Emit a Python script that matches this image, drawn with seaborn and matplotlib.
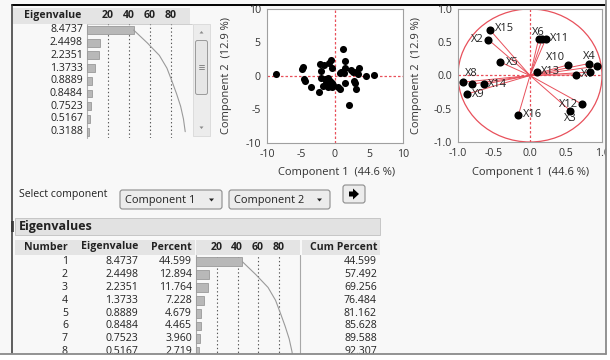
import numpy as np
import pandas as pd
import matplotlib
matplotlib.use("Agg")
import matplotlib.pyplot as plt
import seaborn as sns
from matplotlib.patches import Rectangle, FancyBboxPatch, Circle, Polygon

# ---- eigenvalue summary ----
eigenvalues = [8.4737, 2.4498, 2.2351, 1.3733, 0.8889, 0.8484, 0.7523, 0.5167, 0.3188]
percents = [44.599, 12.894, 11.764, 7.228, 4.679, 4.465, 3.960, 2.719, 1.678]
cum_percents = [44.599, 57.492, 69.256, 76.484, 81.162, 85.628, 89.588, 92.307, 93.985]
pct_ticks = [20, 40, 60, 80]

# ---- score plot (component 1 vs component 2) ----
score_c1 = [-8.7, -4.9, -4.7, -4.6, -4.4, -3.6, -2.4, -2.2, -1.6, -2.1,
            -0.9, -0.6, -0.4, -2.1, -1.5, -1.0, -0.8, -0.5, -1.1, -0.5,
            -1.8, -1.3, -0.3, 0.5, 0.8, 1.2, 1.4, 1.4, 0.9, 1.3,
            0.7, 1.5, 2.1, 2.4, 2.7, 2.8, 2.9, 3.1, 3.1, 3.4,
            3.6, 4.5, 5.8]
score_c2 = [0.3, 1.0, 1.3, -0.5, -0.7, -1.6, -2.4, 1.8, 1.6, 0.7,
            2.0, 2.4, 1.2, -0.3, -0.4, -0.3, -0.8, -1.0, -1.6, -1.6,
            -1.5, -1.1, -1.3, -1.7, -1.9, 4.0, 2.2, 1.2, 0.6, 0.5,
            0.5, -1.1, -4.3, 0.9, 0.6, -0.8, -1.1, -1.9, 0.6, 0.3,
            1.2, 0.0, 0.1]
score_ticks = [-10, -5, 0, 5, 10]

# ---- loading plot ----
variables = ["X1", "X2", "X3", "X4", "X5", "X6", "X7", "X8", "X9", "X10",
             "X11", "X12", "X13", "X14", "X15", "X16", "X17", "X18", "X19"]
load_c1 = [0.64, -0.58, 0.56, 0.82, -0.41, 0.12, 0.17, -0.93, -0.88, 0.53,
           0.22, 0.72, 0.10, -0.64, -0.56, -0.16, 0.93, 0.83, -0.81]
load_c2 = [0.01, 0.54, -0.53, 0.18, 0.20, 0.55, 0.55, -0.10, -0.28, 0.16,
           0.55, -0.43, 0.06, -0.13, 0.69, -0.59, 0.14, 0.05, -0.13]
load_ticks = [-1.0, -0.5, 0.0, 0.5, 1.0]

# label placement (pixel offsets, alignment); variables not listed stay unlabeled
label_place = {
    "X1": (5, 0, "left"), "X2": (-5, 0, "right"), "X3": (0, 8, "center"),
    "X4": (0, -7, "center"), "X5": (5, 0, "left"), "X6": (0, -6, "center"),
    "X8": (2, -9, "left"), "X9": (5, 0, "left"), "X10": (-3, -7, "right"),
    "X11": (4, 0, "left"), "X12": (-4, 0, "right"), "X13": (4, 0, "left"),
    "X14": (4, 0, "left"), "X15": (5, -1, "left"), "X16": (4, 0, "left"),
}

sns.set_style("white")
plt.rcParams["font.family"] = ["Open Sans", "DejaVu Sans"]
plt.rcParams["axes.unicode_minus"] = False

W, H = 610, 360
TXT = "#222222"
RED = "#e8505b"
FS = 7.6


def box(x0, y0, x1, y1):
    return [x0 / W, 1 - y1 / H, (x1 - x0) / W, (y1 - y0) / H]


fig = plt.figure(figsize=(W / 100, H / 100), dpi=100)
fig.patch.set_facecolor("#f8f8f8")

bg = fig.add_axes([0, 0, 1, 1], zorder=0)
bg.set_xlim(0, W)
bg.set_ylim(H, 0)
bg.axis("off")

# window frame lines
bg.plot([12, W], [5, 5], color="black", lw=1.4)
bg.plot([12, 12], [5, 353], color="#333333", lw=1.1)

# ---------------- top eigenvalue list ----------------
bg.add_patch(Rectangle((13, 8), 177, 15.5, fc="#e4e4e4", ec="none"))
bg.text(53, 15.8, "Eigenvalue", ha="center", va="center", fontsize=FS,
        fontweight="bold", color=TXT)
for t in pct_ticks:
    bg.text(87 + t * 1.045, 15.8, str(t), ha="center", va="center",
            fontsize=FS, fontweight="bold", color=TXT)
bg.plot([87, 87], [23.6, 138], color="#b0b0b0", lw=0.8)
bg.plot([87, 191.5], [23.6, 23.6], color="#c8c8c8", lw=0.6)

row_h_top = 12.71
for i, ev in enumerate(eigenvalues):
    bg.text(83, 30 + i * row_h_top, f"{ev:.4f}", ha="right", va="center",
            fontsize=FS, color=TXT)

ax_top = fig.add_axes(box(87, 30 - row_h_top / 2, 191.5,
                          30 + 8 * row_h_top + row_h_top / 2))
rows_top = [str(i + 1) for i in range(len(percents))]
sns.barplot(x=percents, y=rows_top, order=rows_top, orient="h",
            color="#b8b8b8", edgecolor="#9a9a9a", linewidth=0.6,
            width=0.62, saturation=1, ax=ax_top)
for t in pct_ticks:
    ax_top.axvline(t, color="#555555", lw=0.8, ls=(0, (1.2, 2.2)), zorder=0)
ax_top.plot(cum_percents, np.arange(len(cum_percents)), color="#9a9a9a", lw=0.8)
ax_top.set_xlim(0, 100)
ax_top.set_ylim(len(percents) - 0.5, -0.5)
ax_top.axis("off")

# scrollbar
bg.add_patch(Rectangle((193, 24), 17, 112, fc="#ececec", ec="#d8d8d8", lw=0.6))
bg.add_patch(FancyBboxPatch((195.5, 40.5), 12, 54, boxstyle="round,pad=0,rounding_size=2",
                            fc="#e6e6e6", ec="#9a9a9a", lw=0.7))
for dy in (-2, 0, 2):
    bg.plot([199, 204], [67 + dy, 67 + dy], color="#777777", lw=0.6)
bg.add_patch(Polygon([[199.5, 33.5], [203.5, 33.5], [201.5, 31.0]], fc="#8a8a8a", ec="none"))
bg.add_patch(Polygon([[199.5, 126.5], [203.5, 126.5], [201.5, 129.0]], fc="#8a8a8a", ec="none"))

# ---------------- score plot ----------------
def style_axes(ax):
    ax.set_facecolor("white")
    for s in ax.spines.values():
        s.set_color("#a0a0a0")
        s.set_linewidth(0.8)
    ax.tick_params(axis="both", direction="out", length=3, width=0.7,
                   color="#a0a0a0", labelsize=FS, labelcolor="#333333", pad=1.5)
    ax.set_xlabel("")
    ax.set_ylabel("")


ax_s = fig.add_axes(box(267, 9, 403, 143))
sns.scatterplot(x=score_c1, y=score_c2, color="black", s=26, linewidth=0,
                ax=ax_s, zorder=3)
ax_s.axvline(0, color=RED, lw=0.9, ls=(0, (2, 1.6)), zorder=1)
ax_s.axhline(0, color=RED, lw=0.9, ls=(0, (2, 1.6)), zorder=1)
ax_s.set_xlim(-10, 10)
ax_s.set_ylim(-10, 10)
ax_s.set_xticks(score_ticks)
ax_s.set_yticks(score_ticks)
style_axes(ax_s)
bg.text(337, 172, "Component 1  (44.6 %)", ha="center", va="center",
        fontsize=8, color="#333333")
bg.text(227, 76, "Component 2  (12.9 %)", ha="center", va="center",
        rotation=90, fontsize=8, color="#333333")

# ---------------- loading plot ----------------
ax_l = fig.add_axes(box(458, 9, 602, 142))
ax_l.add_patch(Circle((0, 0), 1.0, fill=False, ec=RED, lw=0.9, zorder=1))
ax_l.axvline(0, color=RED, lw=0.9, ls=(0, (2, 1.6)), zorder=1)
ax_l.axhline(0, color=RED, lw=0.9, ls=(0, (2, 1.6)), zorder=1)
for x, y in zip(load_c1, load_c2):
    ax_l.plot([0, x], [0, y], color=RED, lw=0.7, zorder=1)
for name, x, y in zip(variables, load_c1, load_c2):
    if name in label_place:
        dx, dy, ha = label_place[name]
        ax_l.annotate(name, (x, y), xytext=(dx, -dy), textcoords="offset pixels",
                      ha=ha, va="center", fontsize=8, color=TXT, zorder=2)
sns.scatterplot(x=load_c1, y=load_c2, color="black", s=34, linewidth=0,
                ax=ax_l, zorder=3)
ax_l.set_xlim(-1, 1)
ax_l.set_ylim(-1, 1)
ax_l.set_xticks(load_ticks)
ax_l.set_yticks(load_ticks)
ax_l.set_xticklabels([f"{v:.1f}" for v in load_ticks])
ax_l.set_yticklabels([f"{v:.1f}" for v in load_ticks])
style_axes(ax_l)
bg.text(531, 172, "Component 1  (44.6 %)", ha="center", va="center",
        fontsize=8, color="#333333")
bg.text(416, 76, "Component 2  (12.9 %)", ha="center", va="center",
        rotation=90, fontsize=8, color="#333333")

# ---------------- component selector ----------------
bg.text(19, 194.5, "Select component", ha="left", va="center", fontsize=FS, color=TXT)
for x0, x1, label in [(120, 222, "Component 1"), (229, 330, "Component 2")]:
    bg.add_patch(FancyBboxPatch((x0, 190), x1 - x0, 19,
                                boxstyle="round,pad=0,rounding_size=2.5",
                                fc="#ececec", ec="#8c8c8c", lw=0.8))
    bg.text(x0 + 5, 200, label, ha="left", va="center", fontsize=FS + 0.3, color=TXT)
    bg.add_patch(Polygon([[x1 - 13, 198.5], [x1 - 8, 198.5], [x1 - 10.5, 201.5]],
                         fc="#222222", ec="none"))
bg.add_patch(FancyBboxPatch((343, 185), 22, 18, boxstyle="round,pad=0,rounding_size=2.5",
                            fc="#ececec", ec="#8c8c8c", lw=0.8))
bg.add_patch(Polygon([[349, 191.5], [353, 191.5], [353, 188.5], [359, 194],
                      [353, 199.5], [353, 196.5], [349, 196.5]], fc="black", ec="none"))

# ---------------- eigenvalue table ----------------
bg.add_patch(Rectangle((10.5, 221), 3, 11, fc="#555555", ec="none"))
bg.add_patch(Rectangle((15, 218), 365, 17, fc="#e2e2e2", ec="#c0c0c0", lw=0.6))
bg.text(19, 226.5, "Eigenvalues", ha="left", va="center", fontsize=9,
        fontweight="bold", color=TXT)

for x0, x1 in [(15, 195), (196, 300), (302, 380)]:
    bg.add_patch(Rectangle((x0, 239.5), x1 - x0, 15, fc="#e4e4e4", ec="none"))
hdr_y = 247
bg.text(68, hdr_y, "Number", ha="right", va="center", fontsize=FS, fontweight="bold", color=TXT)
bg.text(138, hdr_y, "Eigenvalue", ha="right", va="center", fontsize=FS, fontweight="bold", color=TXT)
bg.text(192, hdr_y, "Percent", ha="right", va="center", fontsize=FS, fontweight="bold", color=TXT)
for t in pct_ticks:
    bg.text(196 + t * 1.03, hdr_y, str(t), ha="center", va="center",
            fontsize=FS, fontweight="bold", color=TXT)
bg.text(377, hdr_y, "Cum Percent", ha="right", va="center", fontsize=FS, fontweight="bold", color=TXT)

row_h = 12.86
row0 = 261.7
for i in range(8):
    y = row0 + i * row_h
    bg.text(68, y, str(i + 1), ha="right", va="center", fontsize=FS, color=TXT)
    bg.text(138, y, f"{eigenvalues[i]:.4f}", ha="right", va="center", fontsize=FS, color=TXT)
    bg.text(192, y, f"{percents[i]:.3f}", ha="right", va="center", fontsize=FS, color=TXT)
    bg.text(377, y, f"{cum_percents[i]:.3f}", ha="right", va="center", fontsize=FS, color=TXT)
bg.plot([196, 196], [255, 360], color="#a8a8a8", lw=0.8)
bg.plot([300, 300], [255, 360], color="#a8a8a8", lw=0.8)

ax_tab = fig.add_axes(box(196, row0 - row_h / 2, 300, 360))
sns.barplot(x=percents, y=rows_top, order=rows_top, orient="h",
            color="#b8b8b8", edgecolor="#9a9a9a", linewidth=0.6,
            width=0.68, saturation=1, ax=ax_tab)
for t in pct_ticks:
    ax_tab.axvline(t, color="#555555", lw=0.8, ls=(0, (1.2, 2.2)), zorder=0)
ax_tab.plot(cum_percents, np.arange(len(cum_percents)), color="#9a9a9a", lw=0.8)
ax_tab.set_xlim(0, 100)
ax_tab.set_ylim((360 - row0) / row_h, -0.5)
ax_tab.axis("off")

# ---------------- page edges ----------------
top = fig.add_axes([0, 0, 1, 1], zorder=10)
top.set_xlim(0, W)
top.set_ylim(H, 0)
top.axis("off")
top.add_patch(Rectangle((605.5, 0), 5, H, fc="white", ec="none"))
top.add_patch(Rectangle((0, 354), W, 6, fc="white", ec="none"))
top.plot([605.5, 605.5], [0, 354], color="#8a8a8a", lw=1.3)
top.plot([0, 605.5], [354, 354], color="#8a8a8a", lw=1.3)

fig.savefig("out.png", dpi=100, facecolor=fig.get_facecolor())
